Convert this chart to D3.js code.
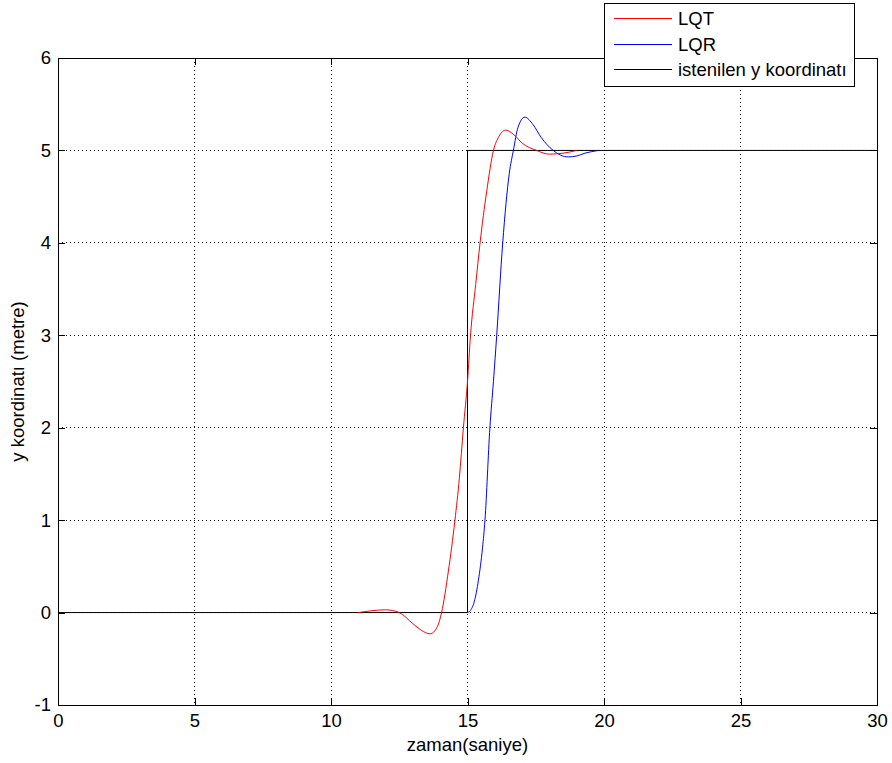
<!DOCTYPE html>
<html>
<head>
<meta charset="utf-8">
<script src="https://cdn.jsdelivr.net/npm/d3@7"></script>
<style>
  body { margin: 0; background: #fff; }
  text { font-family: Arial, "Liberation Sans", sans-serif; }
</style>
</head>
<body>
<div id="chart"></div>
<script>
"use strict";

// LQT response (red)
var lqtTime = [11, 11.5, 12.0, 12.5, 13.0, 13.3, 13.63, 13.9, 14.05, 14.3, 14.54, 14.7, 14.85, 15.0, 15.11, 15.3, 15.46, 15.7, 15.95, 16.15, 16.4, 16.7, 17.0, 17.53, 18.0, 18.5, 19.0];
var lqtY = [0, 0.02, 0.03, 0.0, -0.12, -0.19, -0.23, -0.15, 0.0, 0.45, 1.0, 1.45, 2.0, 2.5, 3.0, 3.55, 4.0, 4.55, 5.0, 5.15, 5.22, 5.17, 5.08, 5.0, 4.96, 4.97, 5.0];

// LQR response (blue)
var lqrTime = [15, 15.1, 15.25, 15.4, 15.55, 15.64, 15.82, 15.95, 16.07, 16.29, 16.53, 16.68, 16.85, 17.1, 17.4, 17.7, 18.14, 18.4, 18.69, 19.0, 19.3, 19.8];
var lqrY = [0, 0.02, 0.12, 0.35, 0.7, 1.0, 2.0, 2.5, 3.0, 4.0, 4.75, 5.0, 5.25, 5.36, 5.28, 5.14, 5.0, 4.95, 4.93, 4.94, 4.97, 5.0];

// desired y coordinate (step)
var refTime = [0, 15, 15, 30];
var refY = [0, 0, 5, 5];

var xTicks = [0, 5, 10, 15, 20, 25, 30];
var yTicks = [-1, 0, 1, 2, 3, 4, 5, 6];

var series = [
    { name: "LQT", color: "#ff0000", t: lqtTime, v: lqtY, curve: d3.curveMonotoneX },
    { name: "LQR", color: "#0000ff", t: lqrTime, v: lqrY, curve: d3.curveMonotoneX },
    { name: "istenilen y koordinatı", color: "#000000", t: refTime, v: refY, curve: d3.curveLinear }
];

var W = 892, H = 763;
var m = { left: 58, right: 15, top: 58, bottom: 58 };
var w = W - m.left - m.right;
var h = H - m.top - m.bottom;
var fs = 18.5;

var x = d3.scaleLinear().domain([0, 30]).range([0, w]);
var y = d3.scaleLinear().domain([-1, 6]).range([h, 0]);

var svg = d3.select("#chart").append("svg")
    .attr("width", W)
    .attr("height", H);

var g = svg.append("g").attr("transform", "translate(" + m.left + "," + m.top + ")");

// grid
g.append("g").selectAll("line")
    .data(xTicks.slice(1, -1))
    .join("line")
    .attr("x1", function (d) { return x(d); })
    .attr("x2", function (d) { return x(d); })
    .attr("y1", 0).attr("y2", h)
    .attr("stroke", "#000").attr("stroke-width", 1)
    .attr("stroke-dasharray", "1,3")
    .attr("shape-rendering", "crispEdges");

g.append("g").selectAll("line")
    .data(yTicks.slice(1, -1))
    .join("line")
    .attr("y1", function (d) { return y(d); })
    .attr("y2", function (d) { return y(d); })
    .attr("x1", 0).attr("x2", w)
    .attr("stroke", "#000").attr("stroke-width", 1)
    .attr("stroke-dasharray", "1,3")
    .attr("shape-rendering", "crispEdges");

// data lines
var line = d3.line();
series.slice().reverse().forEach(function (s) {
    var pts = s.t.map(function (t, i) { return [x(t), y(s.v[i])]; });
    g.append("path")
        .attr("d", line.curve(s.curve)(pts))
        .attr("fill", "none")
        .attr("stroke", s.color)
        .attr("stroke-width", 1);
});

// axes (MATLAB style, ticks inside, box on)
var tickLen = 7;
var fmt = function (d) { return String(d); };
var axB = d3.axisBottom(x).tickValues(xTicks).tickSize(-tickLen).tickPadding(9).tickFormat(fmt);
var axT = d3.axisTop(x).tickValues(xTicks).tickSize(-tickLen).tickFormat("");
var axL = d3.axisLeft(y).tickValues(yTicks).tickSize(-tickLen).tickPadding(7).tickFormat(fmt);
var axR = d3.axisRight(y).tickValues(yTicks).tickSize(-tickLen).tickFormat("");

function styleAxis(sel) {
    sel.selectAll("path").attr("stroke", "#000").attr("shape-rendering", "crispEdges");
    sel.selectAll("line").attr("stroke", "#000").attr("shape-rendering", "crispEdges");
    sel.selectAll("text").attr("font-size", fs).attr("fill", "#000")
        .attr("font-family", "Arial, 'Liberation Sans', sans-serif");
}

g.append("g").attr("transform", "translate(0," + h + ")").call(axB).call(styleAxis);
g.append("g").call(axT).call(styleAxis);
g.append("g").call(axL).call(styleAxis);
g.append("g").attr("transform", "translate(" + w + ",0)").call(axR).call(styleAxis);

// axis labels
svg.append("text")
    .attr("x", m.left + w / 2)
    .attr("y", 751)
    .attr("text-anchor", "middle")
    .attr("font-size", fs)
    .text("zaman(saniye)");

svg.append("text")
    .attr("transform", "translate(24," + (m.top + h / 2) + ") rotate(-90)")
    .attr("text-anchor", "middle")
    .attr("font-size", fs)
    .text("y koordinatı (metre)");

// legend
var lg = svg.append("g").attr("transform", "translate(604,3)");
lg.append("rect")
    .attr("width", 250).attr("height", 83)
    .attr("fill", "#fff").attr("stroke", "#000")
    .attr("shape-rendering", "crispEdges");

var item = lg.selectAll("g.item")
    .data(series)
    .join("g")
    .attr("class", "item")
    .attr("transform", function (d, i) { return "translate(0," + Math.round(15 + i * 25.5) + ")"; });

item.append("line")
    .attr("x1", 10).attr("x2", 68)
    .attr("y1", 0.5).attr("y2", 0.5)
    .attr("stroke", function (d) { return d.color; })
    .attr("shape-rendering", "crispEdges");

item.append("text")
    .attr("x", 74)
    .attr("y", 7)
    .attr("font-size", fs)
    .text(function (d) { return d.name; });
</script>
</body>
</html>
